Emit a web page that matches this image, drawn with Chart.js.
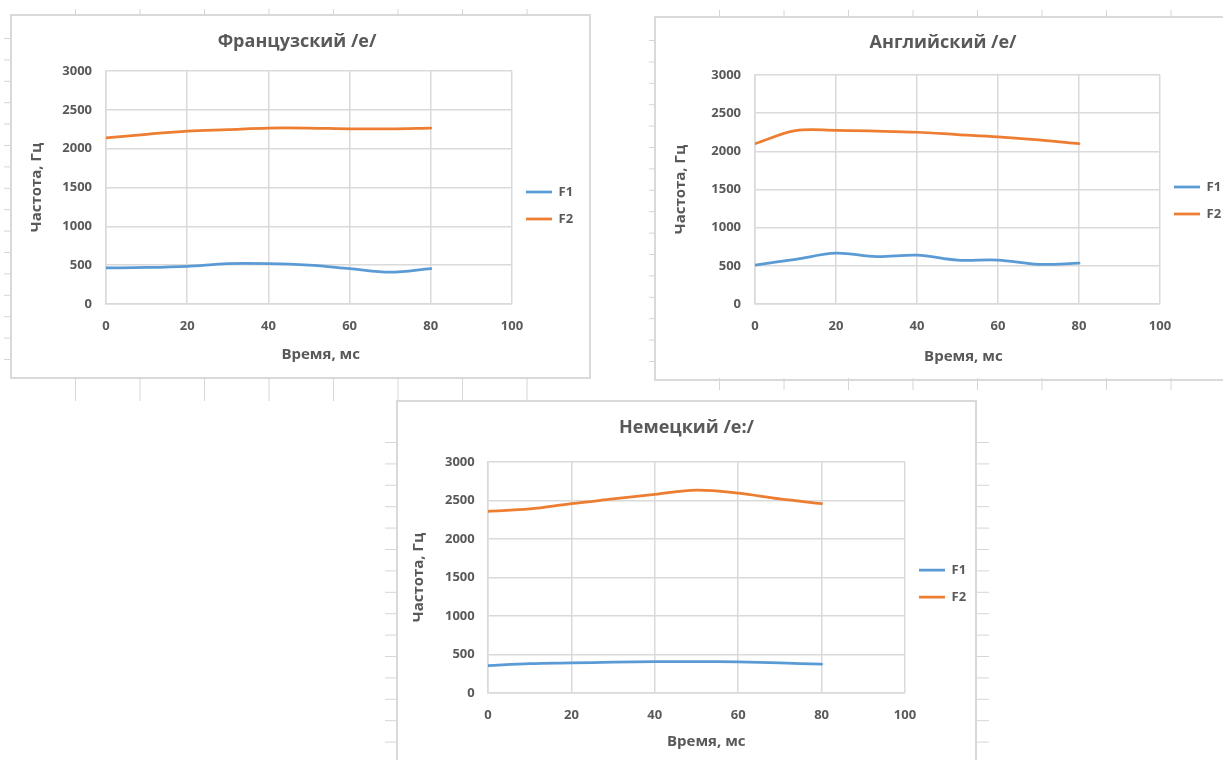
<!DOCTYPE html>
<html>
<head>
<meta charset="utf-8">
<script src="https://cdn.jsdelivr.net/npm/chart.js@4.4.1/dist/chart.umd.min.js"></script>
<style>
  html, body { margin: 0; padding: 0; background: #ffffff; }
  body { width: 1223px; height: 760px; position: relative; overflow: hidden; }
  #sheet { position: absolute; left: 0; top: 0; }
  .chart { position: absolute; }
</style>
</head>
<body>
<canvas id="sheet" width="1223" height="760"></canvas>
<canvas id="c1" class="chart"></canvas>
<canvas id="c2" class="chart"></canvas>
<canvas id="c3" class="chart"></canvas>
<script>
// Formant measurements: time points (ms) and F1/F2 frequencies (Hz)
const timeMs = [0, 10, 20, 30, 40, 50, 60, 70, 80];
const xTicks = [0, 20, 40, 60, 80, 100];
const yTicks = [0, 500, 1000, 1500, 2000, 2500, 3000];

const frenchF1 = [465, 470, 485, 520, 520, 500, 455, 410, 455];
const frenchF2 = [2140, 2185, 2225, 2245, 2265, 2265, 2255, 2255, 2265];
const englishF1 = [510, 585, 665, 620, 640, 575, 575, 520, 535];
const englishF2 = [2100, 2270, 2275, 2265, 2250, 2220, 2190, 2150, 2100];
const germanF1 = [355, 380, 390, 400, 408, 408, 403, 390, 375];
const germanF2 = [2360, 2390, 2460, 2520, 2580, 2635, 2595, 2520, 2460];

const chartTitles = ['Французский /е/', 'Английский /е/', 'Немецкий /е:/'];
const seriesNames = ['F1', 'F2'];
const xAxisTitle = 'Время, мс';
const yAxisTitle = 'Частота, Гц';

// Styling
const FONT = "'Open Sans', 'Liberation Sans', sans-serif";
const WEIGHT = 'bold';
const TEXT = '#595959';
const GRID = '#DADADA';
const BLUE = '#5B9BD5';
const ORANGE = '#ED7D31';
const LINE_W = 2.75;
const TITLE_SIZE = 18, TICK_SIZE = 13, AXIS_TITLE_SIZE = 15, LEG_SIZE = 13;
const LEG_PAD = 14, LEG_LINE = 26;
const LEGEND_EXTRA = 10; // Chart.js adds this to a vertical legend's width

// Frame geometry of each embedded chart (page pixels) and its inner layout targets
const frames = [
  { id: 'c1', left: 11, top: 15, w: 579, h: 363, plotL: 95, plotR: 501, plotT: 56, plotB: 289,
    titleCy: 26.7, legendCy: 177, yTitleCx: 26, yLabelRight: 81, xLabelCy: 311, xTitleCy: 340, xTitleShift: 12 },
  { id: 'c2', left: 655, top: 17, w: 579, h: 363, plotL: 100, plotR: 505, plotT: 58, plotB: 287,
    titleCy: 25.7, legendCy: 170, yTitleCx: 26, yLabelRight: 86, xLabelCy: 309, xTitleCy: 339.7, xTitleShift: 5.5 },
  { id: 'c3', left: 397, top: 401, w: 579, h: 363, plotL: 91, plotR: 508, plotT: 61, plotB: 292,
    titleCy: 27, legendCy: 169, yTitleCx: 22, yLabelRight: 77.7, xLabelCy: 314, xTitleCy: 340.7, xTitleShift: 10 }
];

// Worksheet backdrop: chart frames and the cell-grid stubs around them
(function drawSheet() {
  const ctx = document.getElementById('sheet').getContext('2d');
  ctx.strokeStyle = '#D6D6D6';
  ctx.lineWidth = 1;
  const line = (x1, y1, x2, y2) => { ctx.beginPath(); ctx.moveTo(x1, y1); ctx.lineTo(x2, y2); ctx.stroke(); };
  const colW = 64.5, rowH = 21.4;
  for (let x = 75; x < 590; x += colW) { line(x + 0.5, 9, x + 0.5, 15); line(x + 0.5, 378, x + 0.5, 401); }
  for (let y = 38; y < 378; y += rowH) line(4, y + 0.5, 11, y + 0.5);
  for (let x = 719; x < 1223; x += colW) { line(x + 0.5, 10, x + 0.5, 17); line(x + 0.5, 378, x + 0.5, 390); }
  for (let y = 40; y < 378; y += rowH) line(649, y + 0.5, 655, y + 0.5);
  for (let y = 442; y < 760; y += rowH) { line(385, y + 0.5, 397, y + 0.5); line(977, y + 0.5, 989, y + 0.5); }
  ctx.lineWidth = 2;
  ctx.strokeStyle = '#D9D9D9';
  frames.forEach(f => ctx.strokeRect(f.left, f.top, f.w, f.h));
})();

function measure(text, size) {
  const ctx = document.createElement('canvas').getContext('2d');
  ctx.font = `${WEIGHT} ${size}px ${FONT}`;
  return ctx.measureText(text).width;
}

function buildChart(frame, title, f1, f2) {
  const W = frame.w, H = frame.h;
  const el = document.getElementById(frame.id);
  el.width = W; el.height = H;
  el.style.left = frame.left + 'px';
  el.style.top = frame.top + 'px';

  const titleLH = TITLE_SIZE * 1.2, axisLH = AXIS_TITLE_SIZE * 1.2, tickLH = TICK_SIZE * 1.2;
  const padTop = frame.titleCy - titleLH / 2;
  const padBottom = padTop - (2 * frame.legendCy + LEG_SIZE + LEG_PAD - H);
  const legendW = LEG_PAD + LEG_LINE + LEG_SIZE / 2 +
    Math.max(...seriesNames.map(s => measure(s, LEG_SIZE))) + LEGEND_EXTRA;
  const padRight = W - frame.plotR - legendW;
  const bottomEdge = H - padBottom;

  const spaceW = measure(' ', AXIS_TITLE_SIZE);
  const lead = ' '.repeat(Math.max(0, Math.round(2 * frame.xTitleShift / spaceW)));

  const toPoints = vals => timeMs.map((t, i) => ({ x: t, y: vals[i] }));
  const font = size => ({ family: FONT, size, weight: WEIGHT });

  return new Chart(el, {
    type: 'line',
    data: {
      datasets: [
        { label: seriesNames[0], data: toPoints(f1), borderColor: BLUE, backgroundColor: BLUE, borderWidth: LINE_W },
        { label: seriesNames[1], data: toPoints(f2), borderColor: ORANGE, backgroundColor: ORANGE, borderWidth: LINE_W }
      ]
    },
    options: {
      responsive: false,
      animation: false,
      devicePixelRatio: 1,
      layout: { padding: { left: 0, top: padTop, right: padRight, bottom: padBottom } },
      elements: {
        line: { tension: 0.35, borderCapStyle: 'round', borderJoinStyle: 'round', fill: false },
        point: { radius: 0, hoverRadius: 0 }
      },
      plugins: {
        tooltip: { enabled: false },
        title: {
          display: true, text: title, color: TEXT, font: font(TITLE_SIZE),
          padding: { top: 0, bottom: frame.plotT - padTop - titleLH }
        },
        legend: {
          display: true, position: 'right', align: 'center',
          labels: {
            usePointStyle: true, pointStyle: 'line', pointStyleWidth: LEG_LINE,
            padding: LEG_PAD, color: TEXT, font: font(LEG_SIZE)
          }
        }
      },
      scales: {
        x: {
          type: 'linear', min: 0, max: 100,
          afterBuildTicks: s => { s.ticks = xTicks.map(v => ({ value: v })); },
          afterFit: s => { s.height = bottomEdge - frame.plotB; },
          grid: { color: GRID, lineWidth: 1.5, drawTicks: false },
          border: { color: GRID, width: 1.5 },
          ticks: {
            color: TEXT, padding: frame.xLabelCy - frame.plotB - tickLH / 2, maxRotation: 0,
            font: font(TICK_SIZE), callback: v => String(v)
          },
          title: {
            display: true, text: lead + xAxisTitle, color: TEXT, font: font(AXIS_TITLE_SIZE),
            padding: { top: 0, bottom: bottomEdge - axisLH / 2 - frame.xTitleCy }
          }
        },
        y: {
          min: 0, max: 3000,
          afterBuildTicks: s => { s.ticks = yTicks.map(v => ({ value: v })); },
          afterFit: s => { s.width = frame.plotL; },
          grid: { color: GRID, lineWidth: 1.5, drawTicks: false },
          border: { color: GRID, width: 1.5 },
          ticks: {
            color: TEXT, padding: frame.plotL - frame.yLabelRight,
            font: font(TICK_SIZE), callback: v => String(v)
          },
          title: {
            display: true, text: yAxisTitle, color: TEXT, font: font(AXIS_TITLE_SIZE),
            padding: { top: frame.yTitleCx - axisLH / 2, bottom: 0 }
          }
        }
      }
    }
  });
}

buildChart(frames[0], chartTitles[0], frenchF1, frenchF2);
buildChart(frames[1], chartTitles[1], englishF1, englishF2);
buildChart(frames[2], chartTitles[2], germanF1, germanF2);
</script>
</body>
</html>
